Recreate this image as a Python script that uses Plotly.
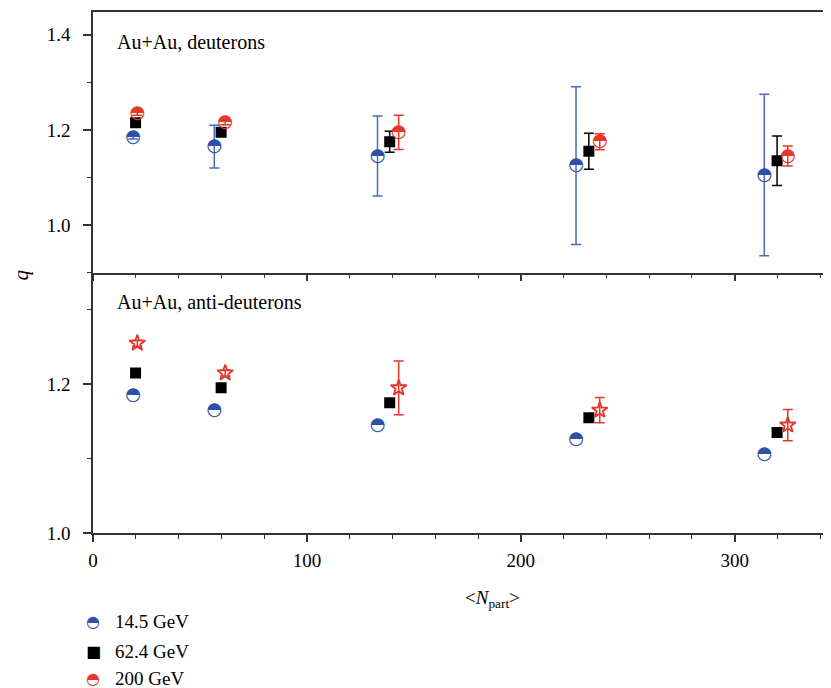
import plotly.graph_objects as go
from plotly.subplots import make_subplots

# ---- data ----
npart_145 = [18.8, 56.7, 133.0, 225.8, 313.8]
npart_624 = [19.9, 59.9, 138.7, 231.8, 319.8]
npart_200 = [20.7, 61.8, 142.9, 236.9, 324.8]

q_d_145 = [1.185, 1.165, 1.145, 1.125, 1.105]
err_d_145 = [0.004, 0.045, 0.084, 0.166, 0.170]
q_d_624 = [1.215, 1.195, 1.175, 1.155, 1.135]
err_d_624 = [0.004, 0.004, 0.022, 0.038, 0.052]
q_d_200 = [1.235, 1.215, 1.195, 1.175, 1.145]
err_d_200 = [0.004, 0.004, 0.036, 0.017, 0.021]

q_ad_145 = [1.185, 1.165, 1.145, 1.125, 1.105]
q_ad_624 = [1.215, 1.195, 1.175, 1.155, 1.135]
q_ad_200 = [1.255, 1.215, 1.195, 1.165, 1.145]
err_ad_200 = [0.004, 0.004, 0.036, 0.017, 0.021]

series_names = ["14.5 GeV", "62.4 GeV", "200 GeV"]
panel_labels = ["Au+Au, deuterons", "Au+Au, anti-deuterons"]
x_ticks = [0, 100, 200, 300]

BLUE = "#2f4fa8"
BLUE_BAR = "#4a68bd"
RED = "#e5372a"
BLACK = "#000000"
SERIF = "Liberation Serif"
GLYPH = "\u25D3"
GLYPH_FONT = "DejaVu Sans"
GLYPH_SIZE = 18

fig = make_subplots(rows=2, cols=1, shared_xaxes=True, vertical_spacing=0)


def err(vals, color):
    return dict(type="data", array=vals, visible=True, color=color, thickness=1.5, width=5)


def glyph_trace(x, y, color, errs=None, bar_color=None):
    return go.Scatter(
        x=x, y=y, mode="text", text=[GLYPH] * len(x),
        textposition="middle center",
        textfont=dict(family=GLYPH_FONT, size=GLYPH_SIZE, color=color),
        error_y=err(errs, bar_color or color) if errs is not None else None,
        showlegend=False, hoverinfo="skip",
    )


def square_trace(x, y, errs=None):
    return go.Scatter(
        x=x, y=y, mode="markers",
        marker=dict(symbol="square", size=11, color=BLACK),
        error_y=err(errs, BLACK) if errs is not None else None,
        showlegend=False,
    )


# top panel: deuterons
fig.add_trace(glyph_trace(npart_145, q_d_145, BLUE, err_d_145, BLUE_BAR), row=1, col=1)
fig.add_trace(square_trace(npart_624, q_d_624, err_d_624), row=1, col=1)
fig.add_trace(glyph_trace(npart_200, q_d_200, RED, err_d_200), row=1, col=1)

# bottom panel: anti-deuterons
fig.add_trace(glyph_trace(npart_145, q_ad_145, BLUE), row=2, col=1)
fig.add_trace(square_trace(npart_624, q_ad_624), row=2, col=1)
fig.add_trace(go.Scatter(
    x=npart_200, y=q_ad_200, mode="markers",
    marker=dict(symbol="star-open", size=12, color=RED, line=dict(width=1.8, color=RED)),
    error_y=err(err_ad_200, RED), showlegend=False,
), row=2, col=1)

axis_common = dict(showline=True, linecolor="#333333", linewidth=1.5,
                   ticks="outside", tickcolor="#333333", tickwidth=1.5,
                   showgrid=False, zeroline=False,
                   tickfont=dict(family=SERIF, size=19, color="black"))

fig.update_xaxes(range=[0, 345], tickvals=x_ticks, ticklen=7, ticklabelstandoff=2,
                 minor=dict(dtick=20, tick0=0, ticklen=4, ticks="outside",
                            tickcolor="#333333", tickwidth=1.2, showgrid=False),
                 **axis_common)
fig.update_xaxes(mirror=True, showticklabels=False, row=1, col=1)

fig.update_yaxes(ticklen=8, tickformat=".1f", ticklabelstandoff=9,
                 minor=dict(dtick=0.1, ticklen=4, ticks="outside",
                            tickcolor="#333333", tickwidth=1.2, showgrid=False),
                 **axis_common)
fig.update_yaxes(range=[0.9, 1.448], tickvals=[1.0, 1.2, 1.4],
                 minor=dict(tick0=0.9), row=1, col=1)
fig.update_yaxes(range=[1.0, 1.35], tickvals=[1.0, 1.2],
                 minor=dict(tick0=1.0), row=2, col=1)

annotations = [
    dict(text=panel_labels[0], xref="x domain", yref="y domain", x=0.03, y=0.885,
         xanchor="left", yanchor="middle", showarrow=False,
         font=dict(family=SERIF, size=20, color="black")),
    dict(text=panel_labels[1], xref="x2 domain", yref="y2 domain", x=0.03, y=0.885,
         xanchor="left", yanchor="middle", showarrow=False,
         font=dict(family=SERIF, size=20, color="black")),
    dict(text="&lt;<i>N</i><sub>part</sub>&gt;", xref="paper", yref="paper",
         x=0.5407, y=-0.1267, xanchor="center", yanchor="middle", showarrow=False,
         font=dict(family=SERIF, size=19, color="black")),
    dict(text="<i>q</i>", xref="paper", yref="paper", x=-0.097, y=0.495,
         xanchor="center", yanchor="middle", textangle=-90, showarrow=False,
         font=dict(family=SERIF, size=21, color="black")),
]

legend_glyphs = [GLYPH, "\u25A0", GLYPH]
legend_colors = [BLUE, BLACK, RED]
legend_y = [-0.169, -0.2265, -0.280]
for name, g, c, ly in zip(series_names, legend_glyphs, legend_colors, legend_y):
    annotations.append(dict(text=g, xref="paper", yref="paper", x=0.0, y=ly,
                            xanchor="center", yanchor="middle", showarrow=False,
                            font=dict(family=GLYPH_FONT, size=16, color=c)))
    annotations.append(dict(text=name, xref="paper", yref="paper", x=0.0271, y=ly,
                            xanchor="left", yanchor="middle", showarrow=False,
                            font=dict(family=SERIF, size=19, color="black")))

# page body has an 8px margin, so the figure is shrunk by that amount
fig.update_layout(
    width=823, height=680,
    margin=dict(l=85, r=0, t=4, b=155),
    paper_bgcolor="white", plot_bgcolor="white",
    showlegend=False,
    annotations=annotations,
)

fig.write_html("out.html")
